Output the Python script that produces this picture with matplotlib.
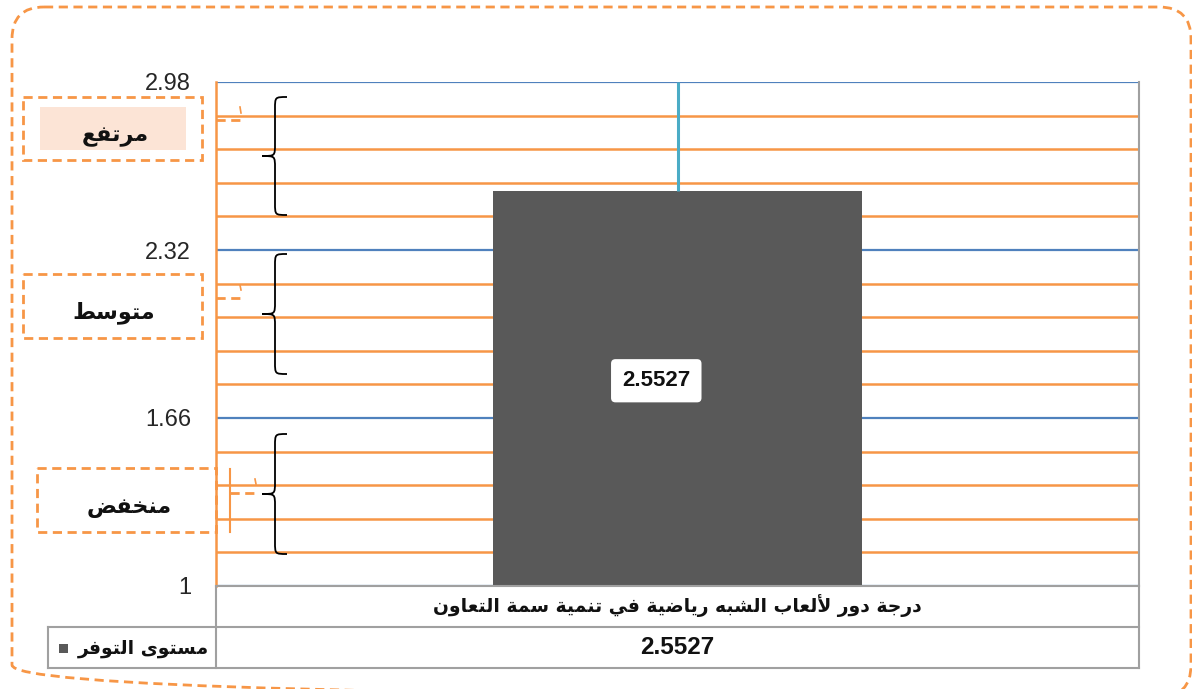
import unicodedata
import matplotlib
matplotlib.use('Agg')
import matplotlib.pyplot as plt
import matplotlib.transforms as mtransforms
from matplotlib.patches import FancyBboxPatch, Rectangle, PathPatch
from matplotlib.path import Path
from matplotlib.ticker import AutoMinorLocator

# ---------------- data ----------------
categories = ['درجة دور لألعاب الشبه رياضية في تنمية سمة التعاون']
values = [2.5527]
series_name = 'مستوى التوفر'
y_ticks = [1, 1.66, 2.32, 2.98]
y_tick_labels = ['1', '1.66', '2.32', '2.98']
level_labels = ['مرتفع', 'متوسط', 'منخفض']
value_labels = ['2.5527']


# ------------- simple Arabic shaping (matplotlib has no complex text layout) -------------
RIGHT_JOIN_ONLY = set('اأإآدذرزوؤةىء')


def _is_ar(c):
    return '\u0621' <= c <= '\u064A'


def _joins_next(c):
    return _is_ar(c) and c not in RIGHT_JOIN_ONLY


def shape(text):
    res = []
    n = len(text)
    i = 0
    alef_names = {'ا': 'ALEF', 'أ': 'ALEF WITH HAMZA ABOVE',
                  'إ': 'ALEF WITH HAMZA BELOW', 'آ': 'ALEF WITH MADDA ABOVE'}
    while i < n:
        c = text[i]
        if not _is_ar(c):
            res.append(c)
            i += 1
            continue
        prev = text[i - 1] if i > 0 else None
        cprev = prev is not None and _joins_next(prev)
        if c == 'ل' and i + 1 < n and text[i + 1] in alef_names:
            form = 'FINAL' if cprev else 'ISOLATED'
            res.append(unicodedata.lookup(
                f'ARABIC LIGATURE LAM WITH {alef_names[text[i + 1]]} {form} FORM'))
            i += 2
            continue
        nxt = text[i + 1] if i + 1 < n else None
        cnext = _joins_next(c) and nxt is not None and _is_ar(nxt)
        if cprev and cnext:
            form = 'MEDIAL'
        elif cprev:
            form = 'FINAL'
        elif cnext:
            form = 'INITIAL'
        else:
            form = 'ISOLATED'
        try:
            res.append(unicodedata.lookup(f'{unicodedata.name(c)} {form} FORM'))
        except KeyError:
            res.append(c)
        i += 1
    return ''.join(reversed(res))


# ---------------- styling ----------------
ORANGE = '#F79646'
BLUE = '#4F81BD'
CYAN = '#4BACC6'
GRAY = '#A0A0A0'
BAR = '#595959'
PEACH = '#FCE4D6'
AR_FONT = ['DejaVu Sans']
NUM_FONT = ['Liberation Sans', 'DejaVu Sans']

W, H = 1192, 689
fig = plt.figure(figsize=(W / 100, H / 100), dpi=100)
fig.patch.set_facecolor('white')


def px(x0, y0, x1, y1):
    return [x0 / W, 1 - y1 / H, (x1 - x0) / W, (y1 - y0) / H]


ax = fig.add_axes(px(216, 82, 1139, 586), zorder=1)
ov = fig.add_axes([0, 0, 1, 1], zorder=2)
ov.set_xlim(0, W)
ov.set_ylim(H, 0)
ov.axis('off')
ov.patch.set_alpha(0)

# ---------------- main chart ----------------
x = list(range(len(categories)))
ax.bar(x, values, width=0.4, bottom=0, color=BAR, zorder=2)
ax.set_xlim(-0.5, len(categories) - 0.5)
ax.set_ylim(y_ticks[0], y_ticks[-1])
ax.set_yticks(y_ticks)
ax.set_yticklabels(y_tick_labels, fontsize=17, family=NUM_FONT, color='#262626')
ax.yaxis.set_minor_locator(AutoMinorLocator(5))
ax.tick_params(axis='y', which='both', length=0, pad=18)
ax.set_xticks([])
ax.grid(axis='y', which='minor', color=ORANGE, lw=1.8, zorder=0)
ax.grid(axis='y', which='major', color=BLUE, lw=1.6, zorder=0)
ax.set_axisbelow(True)
ax.spines['top'].set_visible(False)
ax.spines['left'].set_color(ORANGE)
ax.spines['left'].set_linewidth(1.8)
ax.spines['right'].set_color(GRAY)
ax.spines['right'].set_linewidth(1.5)
ax.spines['bottom'].set_color(GRAY)
ax.spines['bottom'].set_linewidth(1.5)

# vertical cyan line above the bar and the value label
for xi, v in zip(x, values):
    ax.vlines(xi, v, y_ticks[-1], color=CYAN, lw=2.2, zorder=3)
    ax.text(xi - 0.023, (y_ticks[0] + v) / 2 + 0.03, value_labels[xi], ha='center', va='center',
            fontsize=16, fontweight='bold', family=NUM_FONT, color='#111111', zorder=4,
            bbox=dict(boxstyle='round,pad=0.5,rounding_size=0.2', fc='white', ec='none'))

# ---------------- data table ----------------
bt = mtransforms.blended_transform_factory(ax.transData, ov.transData)
tbl = dict(color=GRAY, lw=1.5)
ov.plot([48, 1139], [627, 627], **tbl)
ov.plot([48, 1139], [668, 668], **tbl)
ov.plot([48, 48], [627, 668], **tbl)
ov.plot([216, 216], [586, 668], **tbl)
ov.plot([1139, 1139], [586, 668], **tbl)
for xi, cat in zip(x, categories):
    ov.text(xi, 606, shape(cat), transform=bt, ha='center', va='center', fontsize=13.5,
            fontweight='bold', family=AR_FONT, color='#111111')
    ov.text(xi, 648, value_labels[xi], transform=bt, ha='center', va='center', fontsize=17.5,
            fontweight='bold', family=NUM_FONT, color='#111111')
ov.text(209, 648, shape(series_name), ha='right', va='center', fontsize=13.5,
        fontweight='bold', family=AR_FONT, color='#111111')
ov.add_patch(Rectangle((59, 644), 9, 9, fc=BAR, ec='none'))

# ---------------- level boxes, braces, connectors ----------------
dash = (0, (3.3, 2.0))
boxes = [(23, 97, 202, 160), (23, 274, 202, 338), (37, 468, 216, 532)]
text_pos = [(115, 137), (114, 313), (129, 508)]
ov.add_patch(Rectangle((40, 107), 146, 43, fc=PEACH, ec='none'))
for (x0, y0, x1, y1), (tx, ty), lab in zip(boxes, text_pos, level_labels):
    ov.add_patch(Rectangle((x0, y0), x1 - x0, y1 - y0, fc='none', ec=ORANGE, lw=2.0, ls=dash))
    ov.text(tx, ty, shape(lab), ha='center', va='center', fontsize=16, fontweight='bold',
            family=AR_FONT, color='#111111')

# connectors
ov.plot([216, 243], [120, 120], color=ORANGE, lw=2.0, ls=dash)
ov.plot([240, 241], [107, 113], color=ORANGE, lw=1.2)
ov.plot([216, 243], [298, 298], color=ORANGE, lw=2.0, ls=dash)
ov.plot([240, 241], [285, 290], color=ORANGE, lw=1.2)
ov.plot([230, 230], [469, 532], color=ORANGE, lw=1.5)
ov.plot([230, 257], [493, 493], color=ORANGE, lw=2.0, ls=dash)
ov.plot([255, 256], [479, 484], color=ORANGE, lw=1.2)


def brace(y0, y1, xr=287, xm=275, xl=262, r=12):
    ym = (y0 + y1) / 2
    verts = [(xr, y0), (xm, y0), (xm, y0), (xm, y0 + r),
             (xm, ym - r), (xm, ym), (xm, ym), (xl, ym),
             (xm, ym), (xm, ym), (xm, ym + r),
             (xm, y1 - r), (xm, y1), (xm, y1), (xr, y1)]
    codes = [Path.MOVETO, Path.CURVE4, Path.CURVE4, Path.CURVE4,
             Path.LINETO, Path.CURVE4, Path.CURVE4, Path.CURVE4,
             Path.CURVE4, Path.CURVE4, Path.CURVE4,
             Path.LINETO, Path.CURVE4, Path.CURVE4, Path.CURVE4]
    ov.add_patch(PathPatch(Path(verts, codes), fc='none', ec='black', lw=1.3))


brace(97, 215)
brace(254, 374)
brace(434, 554)

# outer dashed rounded frame
ov.add_patch(FancyBboxPatch((12, 7), 1179, 690, boxstyle='round,pad=0,rounding_size=32',
                            fc='none', ec=ORANGE, lw=2.0, ls=dash, clip_on=False))

fig.savefig('out.png', dpi=100, facecolor='white')
